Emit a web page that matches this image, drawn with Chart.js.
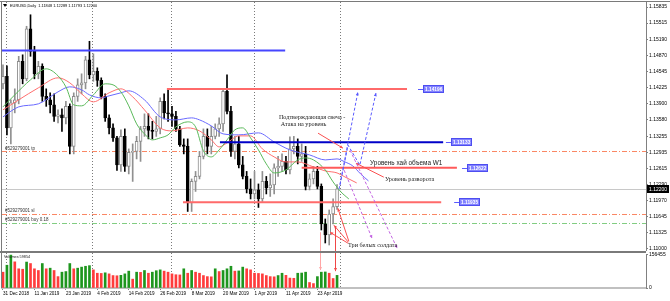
<!DOCTYPE html>
<html lang="ru">
<head>
<meta charset="utf-8">
<title>EURUSD Daily</title>
<script src="https://cdn.jsdelivr.net/npm/chart.js@4.4.1/dist/chart.umd.min.js"></script>
<style>
    html, body { margin: 0; padding: 0; background: #ffffff; }
    .wrap { position: relative; width: 670px; height: 301px; overflow: hidden; background: #fff; }
    .pane { position: absolute; left: 0; width: 670px; }
    #pricePane { top: 0; height: 251px; }
    #volumePane { top: 251px; height: 50px; }
</style>
</head>
<body>
<div class="wrap">
    <div class="pane" id="pricePane"><canvas id="priceChart"></canvas></div>
    <div class="pane" id="volumePane"><canvas id="volumeChart"></canvas></div>
</div>
<script>
// daily bars, 31 Dec 2018 .. 30 Apr 2019
const dates = [
    '31 Dec 2018', '2 Jan 2019', '3 Jan 2019', '4 Jan 2019', '7 Jan 2019', '8 Jan 2019', '9 Jan 2019', '10 Jan 2019',
    '11 Jan 2019', '14 Jan 2019', '15 Jan 2019', '16 Jan 2019', '17 Jan 2019', '18 Jan 2019', '21 Jan 2019', '22 Jan 2019',
    '23 Jan 2019', '24 Jan 2019', '25 Jan 2019', '28 Jan 2019', '29 Jan 2019', '30 Jan 2019', '31 Jan 2019', '1 Feb 2019',
    '4 Feb 2019', '5 Feb 2019', '6 Feb 2019', '7 Feb 2019', '8 Feb 2019', '11 Feb 2019', '12 Feb 2019', '13 Feb 2019',
    '14 Feb 2019', '15 Feb 2019', '18 Feb 2019', '19 Feb 2019', '20 Feb 2019', '21 Feb 2019', '22 Feb 2019', '25 Feb 2019',
    '26 Feb 2019', '27 Feb 2019', '28 Feb 2019', '1 Mar 2019', '4 Mar 2019', '5 Mar 2019', '6 Mar 2019', '7 Mar 2019',
    '8 Mar 2019', '11 Mar 2019', '12 Mar 2019', '13 Mar 2019', '14 Mar 2019', '15 Mar 2019', '18 Mar 2019', '19 Mar 2019',
    '20 Mar 2019', '21 Mar 2019', '22 Mar 2019', '25 Mar 2019', '26 Mar 2019', '27 Mar 2019', '28 Mar 2019', '29 Mar 2019',
    '1 Apr 2019', '2 Apr 2019', '3 Apr 2019', '4 Apr 2019', '5 Apr 2019', '8 Apr 2019', '9 Apr 2019', '10 Apr 2019',
    '11 Apr 2019', '12 Apr 2019', '15 Apr 2019', '16 Apr 2019', '17 Apr 2019', '18 Apr 2019', '19 Apr 2019', '22 Apr 2019',
    '23 Apr 2019', '24 Apr 2019', '25 Apr 2019', '26 Apr 2019', '29 Apr 2019', '30 Apr 2019'
];

const openP = [
    1.1430, 1.1445, 1.1342, 1.1392, 1.1398, 1.1475, 1.1440, 1.1540, 1.1495, 1.1450,
    1.1465, 1.1405, 1.1398, 1.1388, 1.1365, 1.1368, 1.1362, 1.1385, 1.1305, 1.1405,
    1.1428, 1.1432, 1.1478, 1.1448, 1.1455, 1.1437, 1.1405, 1.1362, 1.1342, 1.1322,
    1.1268, 1.1325, 1.1265, 1.1293, 1.1295, 1.1315, 1.1340, 1.1345, 1.1337, 1.1335,
    1.1340, 1.1395, 1.1372, 1.1370, 1.1365, 1.1340, 1.1308, 1.1305, 1.1192, 1.1235,
    1.1245, 1.1285, 1.1325, 1.1305, 1.1325, 1.1340, 1.1350, 1.1415, 1.1375, 1.1295,
    1.1310, 1.1268, 1.1245, 1.1220, 1.1210, 1.1218, 1.1200, 1.1235, 1.1222, 1.1228,
    1.1262, 1.1265, 1.1275, 1.1258, 1.1300, 1.1305, 1.1285, 1.1290, 1.1225, 1.1240,
    1.1255, 1.1225, 1.1150, 1.1128, 1.1170, 1.11848
];
const highP = [
    1.1468, 1.1466, 1.1398, 1.1420, 1.1485, 1.1488, 1.1545, 1.1568, 1.1505, 1.1475,
    1.1470, 1.1420, 1.1412, 1.1410, 1.1378, 1.1380, 1.1395, 1.1390, 1.1412, 1.1440,
    1.1450, 1.1485, 1.1515, 1.1490, 1.1462, 1.1442, 1.1410, 1.1368, 1.1350, 1.1325,
    1.1338, 1.1340, 1.1300, 1.1310, 1.1325, 1.1345, 1.1370, 1.1370, 1.1355, 1.1365,
    1.1402, 1.1410, 1.1419, 1.1385, 1.1375, 1.1345, 1.1320, 1.1320, 1.1240, 1.1255,
    1.1295, 1.1340, 1.1340, 1.1345, 1.1350, 1.1362, 1.1420, 1.1448, 1.1385, 1.1325,
    1.1325, 1.1285, 1.1255, 1.1240, 1.1255, 1.1230, 1.1255, 1.1245, 1.1250, 1.1270,
    1.1285, 1.1290, 1.1285, 1.1324, 1.1325, 1.1320, 1.1310, 1.1305, 1.1250, 1.1265,
    1.1265, 1.1230, 1.1160, 1.1178, 1.1200, 1.12289
];
const lowP = [
    1.1420, 1.1328, 1.1310, 1.1372, 1.1390, 1.1430, 1.1436, 1.1485, 1.1440, 1.1440,
    1.1395, 1.1385, 1.1372, 1.1355, 1.1352, 1.1335, 1.1350, 1.1290, 1.1290, 1.1395,
    1.1410, 1.1420, 1.1440, 1.1435, 1.1425, 1.1400, 1.1355, 1.1330, 1.1315, 1.1257,
    1.1255, 1.1255, 1.1250, 1.1235, 1.1280, 1.1275, 1.1325, 1.1320, 1.1320, 1.1325,
    1.1330, 1.1360, 1.1355, 1.1345, 1.1335, 1.1305, 1.1290, 1.1175, 1.1175, 1.1215,
    1.1240, 1.1280, 1.1290, 1.1290, 1.1320, 1.1325, 1.1335, 1.1370, 1.1285, 1.1280,
    1.1262, 1.1240, 1.1212, 1.1200, 1.1200, 1.1183, 1.1195, 1.1210, 1.1205, 1.1210,
    1.1245, 1.1255, 1.1250, 1.1250, 1.1290, 1.1270, 1.1275, 1.1218, 1.1218, 1.1230,
    1.1220, 1.1138, 1.1112, 1.1108, 1.1150, 1.11793
];
const closeP = [
    1.1445, 1.1342, 1.1392, 1.1398, 1.1475, 1.1440, 1.1540, 1.1495, 1.1450, 1.1465,
    1.1405, 1.1398, 1.1388, 1.1365, 1.1368, 1.1362, 1.1385, 1.1305, 1.1405, 1.1428,
    1.1432, 1.1478, 1.1448, 1.1455, 1.1437, 1.1405, 1.1362, 1.1342, 1.1322, 1.1268,
    1.1325, 1.1265, 1.1293, 1.1295, 1.1315, 1.1340, 1.1345, 1.1337, 1.1335, 1.1340,
    1.1395, 1.1372, 1.1370, 1.1365, 1.1340, 1.1308, 1.1305, 1.1192, 1.1235, 1.1245,
    1.1285, 1.1325, 1.1305, 1.1325, 1.1340, 1.1350, 1.1415, 1.1375, 1.1295, 1.1310,
    1.1268, 1.1245, 1.1220, 1.1210, 1.1218, 1.1200, 1.1235, 1.1222, 1.1228, 1.1262,
    1.1265, 1.1275, 1.1258, 1.1300, 1.1305, 1.1285, 1.1290, 1.1225, 1.1240, 1.1255,
    1.1225, 1.1150, 1.1128, 1.1170, 1.11848, 1.12200
];
const volumes = [
    75000, 108000, 156000, 124000, 91000, 89000, 123000, 116000, 91000, 83000,
    116000, 91000, 94000, 83000, 54000, 75000, 78000, 116000, 91000, 94000,
    99000, 103000, 106000, 86000, 70000, 69000, 72000, 67000, 59000, 58000,
    60000, 67000, 80000, 42000, 75000, 74000, 83000, 70000, 75000, 82000,
    86000, 80000, 75000, 67000, 63000, 62000, 91000, 70000, 83000, 75000,
    70000, 59000, 54000, 53000, 91000, 78000, 83000, 91000, 103000, 80000,
    81000, 99000, 91000, 86000, 70000, 69000, 67000, 59000, 54000, 53000,
    59000, 70000, 60000, 47000, 46000, 70000, 71000, 75000, 26000, 21000,
    54000, 75000, 76000, 70000, 45000, 59854
];

// Alligator lines: [bar, price]
const lipsLine = [
    [0, 1.1384], [3, 1.1408], [7, 1.1438], [11, 1.1460], [14, 1.1446], [16, 1.1424], [18, 1.1388], [20, 1.1386],
    [23, 1.1408], [26, 1.1430], [28, 1.1428], [30, 1.1414], [32, 1.1386], [34, 1.1350], [36, 1.1330], [38, 1.1318],
    [40, 1.1322], [42, 1.1328], [44, 1.1344], [47, 1.1354], [49, 1.1344], [51, 1.1296], [53, 1.1284], [55, 1.1298],
    [57, 1.1318], [59, 1.1338], [61, 1.1342], [63, 1.1322], [65, 1.1298], [67, 1.1270], [69, 1.1252], [72, 1.1258],
    [75, 1.1278], [77, 1.1282], [79, 1.1278], [82, 1.1258], [84, 1.1234], [86, 1.1214], [88, 1.1200]
];
const teethLine = [
    [0, 1.1378], [4, 1.1398], [9, 1.1422], [14, 1.1442], [17, 1.1432], [20, 1.1410], [23, 1.1394], [27, 1.1412],
    [30, 1.1420], [33, 1.1404], [36, 1.1378], [40, 1.1342], [43, 1.1336], [47, 1.1342], [50, 1.1336], [53, 1.1318],
    [55, 1.1304], [57, 1.1312], [60, 1.1326], [63, 1.1326], [66, 1.1300], [69, 1.1284], [72, 1.1274], [75, 1.1274],
    [79, 1.1264], [82, 1.1256], [85, 1.1252], [87, 1.1244], [90, 1.1232]
];
const jawLine = [
    [0, 1.1364], [4, 1.1384], [9, 1.1390], [14, 1.1414], [17, 1.1424], [20, 1.1418], [22, 1.1408], [25, 1.1402],
    [27, 1.1406], [30, 1.1412], [32, 1.1416], [36, 1.1398], [40, 1.1364], [44, 1.1358], [48, 1.1362], [50, 1.1358],
    [53, 1.1346], [56, 1.1330], [60, 1.1328], [65, 1.1332], [69, 1.1314], [73, 1.1298], [78, 1.1288], [82, 1.1278],
    [85, 1.1280], [87, 1.1274], [89, 1.1266], [91, 1.1250], [93, 1.1236]
];

const priceTicks = [1.15835, 1.15515, 1.15190, 1.14870, 1.14545, 1.14225, 1.13900, 1.13580,
    1.13255, 1.12935, 1.12615, 1.12290, 1.11970, 1.11645, 1.11325, 1.11000];
const volumeTicks = [0, 156455];
const dateTicks = [0, 8, 16, 24, 32, 40, 48, 56, 64, 72, 80];
const monthStarts = [1, 23, 43, 64, 86];
const lastPrice = 1.12200;

// drawn objects (bar / price coordinates)
const levelPrices = [1.14965, 1.14196, 1.13133, 1.12622, 1.11935];
const levelSpans = [[-0.25, 71.8], [41.7, 102.8], [55.2, 112.0], [76.0, 115.5], [45.8, 111.5]];
const levelTags = [null, 105.6, 112.7, 116.8, 114.8];
const orderPrices = [1.12955, 1.11709, 1.11521];
const orderNames = ['#529279001 tp', '#529279001 sl', '#529279001 buy 0.18'];

const notes = [
    {text: 'Подтверждающая свеча -', bar: 70.2, price: 1.13635, serif: true},
    {text: 'Атака на уровень', bar: 70.7, price: 1.13495, serif: true},
    {text: 'Уровень хай объема W1', bar: 93.4, price: 1.12715, serif: false},
    {text: 'Уровень разворота', bar: 97.2, price: 1.12385, serif: true},
    {text: 'Три белых солдата', bar: 87.8, price: 1.11065, serif: true},
];
const arrowNotes = [
    {kind: 'red', pts: [[80.15, 1.13315], [86.5, 1.13015]]},
    {kind: 'red', pts: [[96.9, 1.12435], [89.8, 1.12715]]},
    {kind: 'red', pts: [[87.8, 1.11115], [83.2, 1.11335]]},
    {kind: 'red', pts: [[87.9, 1.11135], [84.2, 1.11475]]},
    {kind: 'red', pts: [[88.0, 1.11155], [85.2, 1.11815]]},
    {kind: 'up', pts: [[85.5, 1.12195], [90.3, 1.14135]]},
    {kind: 'up', pts: [[85.75, 1.12275], [87.8, 1.13075], [90.8, 1.12675], [94.9, 1.14115]]},
    {kind: 'down', pts: [[86.8, 1.12575], [93.9, 1.11215]]},
    {kind: 'down', pts: [[88.3, 1.12975], [100.3, 1.11015]]},
];
const volumeArrows = [
    {bar: 80.7, price: 1.11335, volume: 85000, light: true},
    {bar: 84.4, price: 1.11455, volume: 80000, light: false},
];

const XMIN = -0.254;
const XMAX = XMIN + 644 / 3.93;

const bull = i => closeP[i] >= openP[i];
const bars = dates.map((d, i) => i);
const volColors = volumes.map((v, i) => (i > 0 && v > volumes[i - 1]) ? 'rgb(30,150,30)' : 'rgb(255,60,60)');
const arrowStyle = {
    red: {color: 'rgb(250,80,80)', dash: []},
    up: {color: 'rgb(90,90,255)', dash: [3, 2]},
    down: {color: 'rgb(195,100,225)', dash: [3, 2]},
};
const levelColors = ['#4646ff', '#ff6a6a', '#0000c8', '#ff5a5a', '#ff6a6a'];
const orderColors = ['rgb(250,135,100)', 'rgb(250,135,100)', 'rgb(130,205,130)'];

function seg(ctx, x1, y1, x2, y2) {
    ctx.beginPath();
    ctx.moveTo(x1, y1);
    ctx.lineTo(x2, y2);
    ctx.stroke();
}

function drawArrow(ctx, pts, color, dash) {
    ctx.save();
    ctx.strokeStyle = color;
    ctx.fillStyle = color;
    ctx.lineWidth = 1;
    ctx.setLineDash(dash);
    ctx.beginPath();
    pts.forEach(([x, y], k) => k ? ctx.lineTo(x, y) : ctx.moveTo(x, y));
    ctx.stroke();
    ctx.setLineDash([]);
    const [x1, y1] = pts[pts.length - 2];
    const [x2, y2] = pts[pts.length - 1];
    const a = Math.atan2(y2 - y1, x2 - x1);
    const h = 3.5;
    ctx.beginPath();
    ctx.moveTo(x2, y2);
    ctx.lineTo(x2 - h * Math.cos(a - 0.45), y2 - h * Math.sin(a - 0.45));
    ctx.lineTo(x2 - h * Math.cos(a + 0.45), y2 - h * Math.sin(a + 0.45));
    ctx.closePath();
    ctx.fill();
    ctx.restore();
}

const pricePlugin = {
    id: 'priceOverlay',
    beforeDatasetsDraw(chart) {
        const {ctx, chartArea: a, scales: {x, y}} = chart;
        ctx.save();
        ctx.lineWidth = 1;
        ctx.strokeStyle = '#7a7a7a';
        ctx.setLineDash([1, 2]);
        monthStarts.forEach(b => {
            const px = Math.round(x.getPixelForValue(b)) - 0.5;
            seg(ctx, px, a.top, px, a.bottom);
        });
        ctx.setLineDash([]);
        ctx.strokeStyle = '#c8c8c8';
        const yb = Math.round(y.getPixelForValue(lastPrice)) + 0.5;
        seg(ctx, a.left, yb, a.right, yb);

        ctx.setLineDash([5, 2, 1, 2]);
        orderPrices.forEach((p, k) => {
            ctx.strokeStyle = orderColors[k];
            const py = Math.round(y.getPixelForValue(p)) + 0.5;
            seg(ctx, a.left, py, a.right, py);
        });
        ctx.setLineDash([]);
        ctx.fillStyle = '#333';
        ctx.font = '4.5px "Liberation Sans"';
        ctx.textBaseline = 'alphabetic';
        orderPrices.forEach((p, k) => ctx.fillText(orderNames[k], a.left + 3, y.getPixelForValue(p) - 1.5));
        ctx.restore();
    },
    afterDatasetsDraw(chart) {
        const {ctx, chartArea: a, scales: {x, y}} = chart;
        ctx.save();
        // horizontal levels with price tags
        levelPrices.forEach((p, k) => {
            const py = y.getPixelForValue(p);
            ctx.strokeStyle = levelColors[k];
            ctx.lineWidth = 2;
            seg(ctx, x.getPixelForValue(levelSpans[k][0]), py, x.getPixelForValue(levelSpans[k][1]), py);
            if (levelTags[k] !== null) {
                const tx = x.getPixelForValue(levelTags[k]);
                const ry = Math.round(py) + 0.5;
                ctx.lineWidth = 1;
                ctx.strokeStyle = '#5a5aff';
                seg(ctx, tx, ry, tx + 5, ry);
                const label = p.toFixed(5);
                ctx.font = 'bold 4.8px "Liberation Sans"';
                const w = Math.round(ctx.measureText(label).width + 4);
                ctx.fillStyle = '#8282ff';
                ctx.fillRect(Math.round(tx + 5), Math.round(py) - 4, w, 8);
                ctx.strokeStyle = '#4d4df0';
                ctx.strokeRect(Math.round(tx + 5) + 0.5, Math.round(py) - 3.5, w - 1, 7);
                ctx.fillStyle = '#ffffff';
                ctx.textBaseline = 'middle';
                ctx.fillText(label, Math.round(tx + 5) + 2, Math.round(py) + 0.3);
            }
        });
        // annotation arrows
        arrowNotes.forEach(n => {
            const st = arrowStyle[n.kind];
            drawArrow(ctx, n.pts.map(([b, p]) => [x.getPixelForValue(b), y.getPixelForValue(p)]), st.color, st.dash);
        });
        volumeArrows.forEach(v => {
            const px = Math.round(x.getPixelForValue(v.bar)) + 0.5;
            ctx.strokeStyle = v.light ? 'rgb(255,165,165)' : 'rgb(240,70,70)';
            ctx.lineWidth = 1;
            seg(ctx, px, y.getPixelForValue(v.price), px, a.bottom);
        });
        // notes
        ctx.fillStyle = '#1a1a1a';
        ctx.textBaseline = 'middle';
        notes.forEach(n => {
            ctx.font = n.serif ? '6.2px "Liberation Serif"' : '6.4px "Liberation Sans"';
            ctx.fillText(n.text, x.getPixelForValue(n.bar), y.getPixelForValue(n.price));
        });
        // frame
        ctx.strokeStyle = '#7a7a7a';
        ctx.lineWidth = 1;
        seg(ctx, 0, 1.5, chart.width, 1.5);
        seg(ctx, 1.5, 1.5, 1.5, chart.height);
        // title
        ctx.fillStyle = '#000';
        ctx.beginPath();
        ctx.moveTo(3, 4);
        ctx.lineTo(7, 4);
        ctx.lineTo(5, 7);
        ctx.closePath();
        ctx.fill();
        ctx.font = '3.9px "Liberation Sans"';
        ctx.textBaseline = 'middle';
        ctx.fillText('EURUSD,Daily  ' + [openP[85], highP[85], lowP[85], closeP[85]].map(v => v.toFixed(5)).join(' '), 10, 5.5);
        ctx.restore();
    },
    afterDraw(chart) {
        const {ctx, chartArea: a, scales: {y}} = chart;
        const py = Math.round(y.getPixelForValue(lastPrice));
        ctx.save();
        ctx.fillStyle = '#000';
        ctx.fillRect(a.right + 1, py - 4, 22, 8);
        ctx.fillStyle = '#fff';
        ctx.font = '5px "Liberation Sans"';
        ctx.textBaseline = 'middle';
        ctx.fillText(lastPrice.toFixed(5), a.right + 3, py + 0.3);
        ctx.restore();
    }
};

const volumePlugin = {
    id: 'volumeOverlay',
    beforeDatasetsDraw(chart) {
        const {ctx, chartArea: a, scales: {x}} = chart;
        ctx.save();
        ctx.lineWidth = 1;
        ctx.strokeStyle = '#7a7a7a';
        ctx.setLineDash([1, 2]);
        monthStarts.forEach(b => {
            const px = Math.round(x.getPixelForValue(b)) - 0.5;
            seg(ctx, px, 2, px, a.bottom);
        });
        ctx.restore();
    },
    afterDatasetsDraw(chart) {
        const {ctx, chartArea: a, scales: {x, y}} = chart;
        ctx.save();
        volumeArrows.forEach(v => {
            const px = Math.round(x.getPixelForValue(v.bar)) + 0.5;
            const color = v.light ? 'rgb(255,165,165)' : 'rgb(240,70,70)';
            drawArrow(ctx, [[px, 0], [px, y.getPixelForValue(v.volume)]], color, []);
        });
        ctx.fillStyle = '#7a7a7a';
        ctx.fillRect(0, 0, a.right, 2);
        ctx.strokeStyle = '#7a7a7a';
        ctx.lineWidth = 1;
        seg(ctx, 1.5, 0, 1.5, a.bottom);
        ctx.fillStyle = '#222';
        ctx.font = '3.8px "Liberation Sans"';
        ctx.textBaseline = 'middle';
        ctx.fillText('Volumes ' + volumes[volumes.length - 1], a.left + 2, a.top + 2.5);
        ctx.restore();
    }
};

const axisFont = {family: 'Liberation Sans', size: 5};

new Chart(document.getElementById('priceChart'), {
    type: 'bar',
    data: {
        datasets: [
            {
                type: 'line', label: 'Lips', order: 0,
                data: lipsLine.map(([b, p]) => ({x: b, y: p})),
                borderColor: 'rgb(90,185,90)', borderWidth: 1, pointRadius: 0, cubicInterpolationMode: 'monotone'
            },
            {
                type: 'line', label: 'Teeth', order: 0,
                data: teethLine.map(([b, p]) => ({x: b, y: p})),
                borderColor: 'rgb(255,110,110)', borderWidth: 1, pointRadius: 0, cubicInterpolationMode: 'monotone'
            },
            {
                type: 'line', label: 'Jaw', order: 0,
                data: jawLine.map(([b, p]) => ({x: b, y: p})),
                borderColor: 'rgb(105,105,255)', borderWidth: 1, pointRadius: 0, cubicInterpolationMode: 'monotone'
            },
            {
                label: 'Body', order: 1, grouped: false,
                data: bars.map(i => ({x: i, y: [openP[i], closeP[i]]})),
                backgroundColor: bars.map(i => bull(i) ? '#ffffff' : '#000000'),
                borderColor: bars.map(i => bull(i) ? '#8c8c8c' : '#000000'),
                borderWidth: 1, borderSkipped: false, barThickness: 3, minBarLength: 1
            },
            {
                label: 'Wick', order: 2, grouped: false,
                data: bars.map(i => ({x: i, y: [lowP[i], highP[i]]})),
                backgroundColor: bars.map(i => bull(i) ? '#909090' : '#000000'),
                borderWidth: 0, barThickness: 1
            }
        ]
    },
    options: {
        responsive: true,
        maintainAspectRatio: false,
        animation: false,
        events: [],
        layout: {padding: {left: 2, top: 2, right: 0, bottom: 0}},
        plugins: {legend: {display: false}, tooltip: {enabled: false}},
        scales: {
            x: {type: 'linear', min: XMIN, max: XMAX, display: false, offset: false, grid: {offset: false}},
            y: {
                position: 'right', min: 1.10960, max: 1.15935,
                afterBuildTicks: s => { s.ticks = priceTicks.map(v => ({value: v})); },
                afterFit: s => { s.width = 24; s.paddingTop = 0; s.paddingBottom = 0; },
                ticks: {font: axisFont, color: '#000', padding: 1, callback: v => Number(v).toFixed(5)},
                grid: {drawOnChartArea: false, tickLength: 2, color: '#808080'},
                border: {display: true, color: '#808080', width: 1}
            }
        }
    },
    plugins: [pricePlugin]
});

new Chart(document.getElementById('volumeChart'), {
    type: 'bar',
    data: {
        datasets: [{
            label: 'Volumes', grouped: false,
            data: bars.map(i => ({x: i, y: volumes[i]})),
            backgroundColor: volColors,
            borderWidth: 0, barThickness: 2
        }]
    },
    options: {
        responsive: true,
        maintainAspectRatio: false,
        animation: false,
        events: [],
        layout: {padding: {left: 2, top: 3, right: 0, bottom: 0}},
        plugins: {legend: {display: false}, tooltip: {enabled: false}},
        scales: {
            x: {
                type: 'linear', min: XMIN, max: XMAX, offset: false,
                afterBuildTicks: s => { s.ticks = dateTicks.map(v => ({value: v})); },
                afterFit: s => { s.height = 13; s.paddingLeft = 0; s.paddingRight = 0; },
                ticks: {
                    font: {family: 'Liberation Sans', size: 4.6}, color: '#000', padding: 1,
                    align: 'start', maxRotation: 0, autoSkip: false, callback: v => dates[v]
                },
                grid: {drawOnChartArea: false, tickLength: 2, color: '#808080', offset: false},
                border: {display: true, color: '#c0c0c0', width: 2}
            },
            y: {
                position: 'right', min: 0, max: 161196,
                afterBuildTicks: s => { s.ticks = volumeTicks.map(v => ({value: v})); },
                afterFit: s => { s.width = 24; s.paddingTop = 0; s.paddingBottom = 0; },
                ticks: {font: axisFont, color: '#000', padding: 1, callback: v => String(v)},
                grid: {drawOnChartArea: false, tickLength: 2, color: '#808080'},
                border: {display: true, color: '#808080', width: 1}
            }
        }
    },
    plugins: [volumePlugin]
});
</script>
</body>
</html>
